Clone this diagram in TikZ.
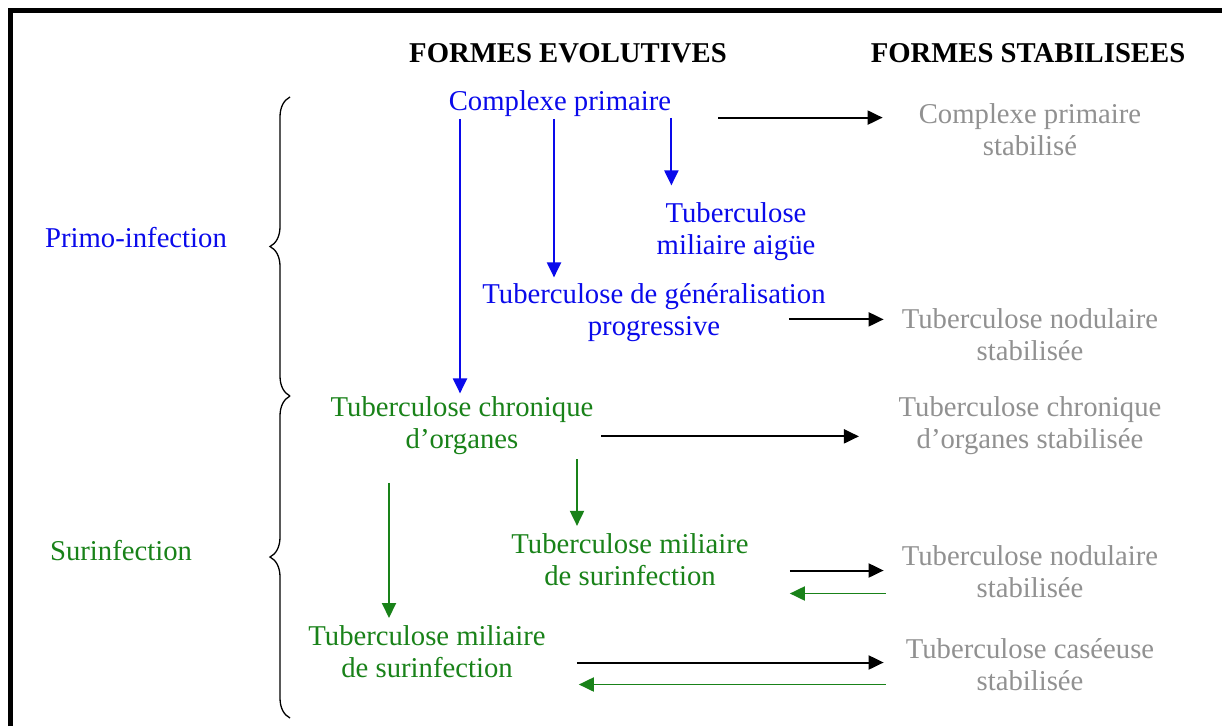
\documentclass[tikz,border=0pt]{standalone}
\usepackage{fontspec}
\setmainfont{Liberation Serif}
\usetikzlibrary{arrows.meta,decorations.pathreplacing}
\definecolor{tblue}{RGB}{10,10,235}
\definecolor{tgreen}{RGB}{25,130,25}
\definecolor{tgray}{RGB}{145,145,145}
\begin{document}
\begin{tikzpicture}[x=1pt,y=-1pt,
  lbl/.style={anchor=north,inner sep=0pt,align=center,font=\fontsize{28.7}{32}\selectfont},
  hdr/.style={lbl,font=\fontsize{28.7}{32}\selectfont\bfseries},
  evo/.style={lbl,text=tblue},
  sur/.style={lbl,text=tgreen},
  stab/.style={lbl,text=tgray},
  tipx/.style={-{Triangle[length=15pt,width=14pt]}},
  karr/.style={tipx,line width=2pt,draw=black},
  barr/.style={tipx,line width=2.1pt,draw=tblue},
  garr/.style={tipx,line width=1.9pt,draw=tgreen},
  bracex/.style={decorate,decoration={brace,amplitude=20pt},line width=1.3pt},
]
\useasboundingbox (0,0) rectangle (1222,726);
\fill[white] (0,0) rectangle (1222,726);
\draw[line width=5pt] (10,726) -- (10,10.5) -- (1222,10.5);

% headers
\node[hdr] (hE) at (568,43.5) {FORMES EVOLUTIVES};
\node[hdr] (hS) at (1028,43.5) {FORMES STABILISEES};

% left labels
\node[evo] (primo) at (136,227.4) {Primo-infection};
\node[sur] (surf) at (121,540.4) {Surinfection};

% evolutive forms
\node[evo] (cp) at (560,90.4) {Complexe primaire};
\node[evo] (tma) at (736,202.4) {Tuberculose\\miliaire aigüe};
\node[evo] (tgp) at (654,283.4) {Tuberculose de généralisation\\progressive};
\node[sur] (tco) at (462,396.4) {Tuberculose chronique\\d’organes};
\node[sur] (tms1) at (630,533.4) {Tuberculose miliaire\\de surinfection};
\node[sur] (tms2) at (427,625.4) {Tuberculose miliaire\\de surinfection};

% stabilised forms
\node[stab] (cps) at (1030,103.4) {Complexe primaire\\stabilisé};
\node[stab] (tns1) at (1030,308.4) {Tuberculose nodulaire\\stabilisée};
\node[stab] (tcos) at (1030,396.4) {Tuberculose chronique\\d’organes stabilisée};
\node[stab] (tns2) at (1030,545.4) {Tuberculose nodulaire\\stabilisée};
\node[stab] (tcs) at (1030,638.4) {Tuberculose caséeuse\\stabilisée};

% braces
\coordinate (brTop) at (290,97);
\coordinate (brMid) at (290,396);
\coordinate (brBot) at (290,718);
\draw[bracex] (brMid) -- (brTop);
\draw[bracex] (brBot) -- (brMid);

% blue vertical arrows
\draw[barr,shorten <=2pt,shorten >=3pt] ([xshift=-2pt]tco.north |- cp.south) -- ([xshift=-2pt]tco.north);
\draw[barr,shorten <=2pt,shorten >=6pt] ([xshift=-6pt]cp.south) -- ([xshift=-6pt]cp.south |- tgp.north);
\draw[barr,shorten <=1pt,shorten >=17pt] (cp.south east) -- (cp.south east |- tma.north);

% green vertical arrows
\draw[garr,shorten <=4.5pt,shorten >=7.5pt] ([xshift=115pt]tco.south) -- ([xshift=115pt]tco.south |- tms1.north);
\draw[garr,shorten <=28pt,shorten >=7.4pt] ([xshift=-73pt]tco.south) -- ([xshift=-73pt]tco.south |- tms2.north);

% horizontal arrows
\coordinate (k1s) at ([xshift=47pt,yshift=-14pt]cp.east);
\draw[karr,shorten >=36pt] (k1s) -- (k1s -| cps.west);
\coordinate (k2s) at ([xshift=-37pt,yshift=-6.7pt]tgp.east);
\draw[karr,shorten >=18pt] (k2s) -- (k2s -| tns1.west);
\coordinate (k3s) at ([xshift=7.5pt,yshift=-10.7pt]tco.east);
\draw[karr,shorten >=39.5pt] (k3s) -- (k3s -| tcos.west);
\coordinate (k4s) at ([xshift=41pt,yshift=-10.8pt]tms1.east);
\draw[karr,shorten >=18pt] (k4s) -- (k4s -| tns2.west);
\coordinate (g4e) at ([xshift=41pt,yshift=-33.8pt]tms1.east);
\draw[garr,shorten <=16pt] (g4e -| tns2.west) -- (g4e);
\coordinate (k5s) at ([xshift=31pt,yshift=-10.8pt]tms2.east);
\draw[karr,shorten >=22pt] (k5s) -- (k5s -| tcs.west);
\coordinate (g5e) at ([xshift=33pt,yshift=-32.8pt]tms2.east);
\draw[garr,shorten <=20pt] (g5e -| tcs.west) -- (g5e);
\end{tikzpicture}
\end{document}
